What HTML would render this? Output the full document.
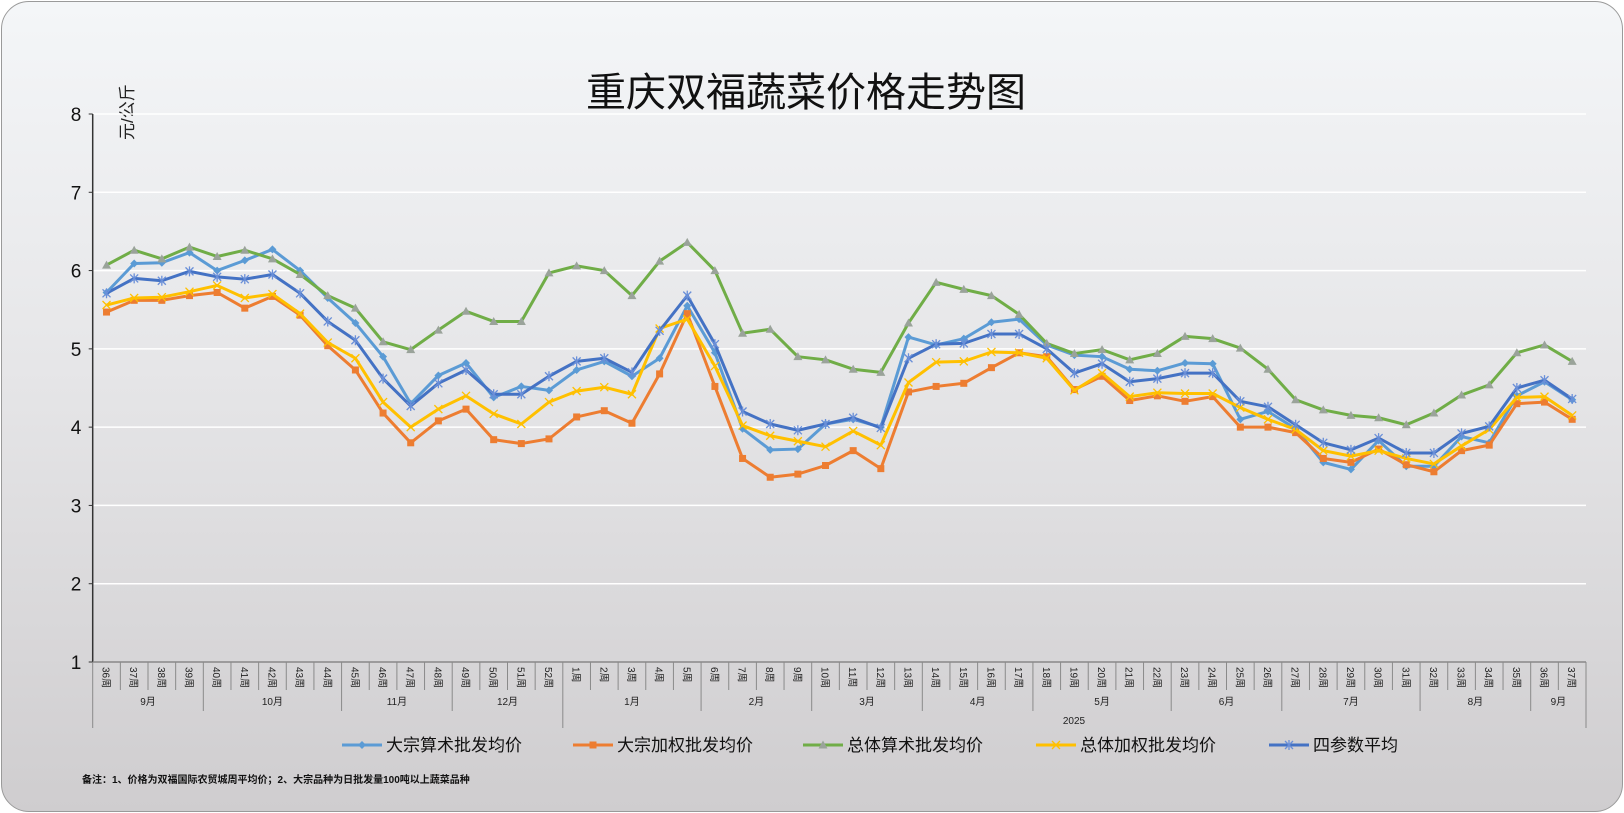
<!DOCTYPE html>
<html><head><meta charset="utf-8"><style>
html,body{margin:0;padding:0;width:1624px;height:813px;overflow:hidden;background:#fff}
#card{position:absolute;left:1px;top:1px;width:1620px;height:809px;border:1px solid #9a9a9a;border-radius:28px;background:linear-gradient(#f4f6f8,#e6e6e8 45%,#cfcdcf);overflow:hidden}
svg text{font-family:"Liberation Sans","Noto Sans CJK SC",sans-serif}
</style></head><body>
<div id="card">
<svg id="chart" width="1624" height="813" style="position:absolute;left:-2px;top:-2px">
<text x="806" y="106" text-anchor="middle" font-size="40" fill="#111">重庆双福蔬菜价格走势图</text>
<text transform="translate(133,140) rotate(-90)" font-size="17" fill="#222">元/公斤</text>
<text x="82" y="783" font-size="10" font-weight="bold" fill="#111">备注：1、价格为双福国际农贸城周平均价；2、大宗品种为日批发量100吨以上蔬菜品种</text>
<g id="grid"></g><g id="axes"></g><g id="series"></g><g id="legend"></g>
</svg>
</div>
<script>
const weeks=["36周","37周","38周","39周","40周","41周","42周","43周","44周","45周","46周","47周","48周","49周","50周","51周","52周","1周","2周","3周","4周","5周","6周","7周","8周","9周","10周","11周","12周","13周","14周","15周","16周","17周","18周","19周","20周","21周","22周","23周","24周","25周","26周","27周","28周","29周","30周","31周","32周","33周","34周","35周","36周","37周"];
const months=[["9月",0,3],["10月",4,8],["11月",9,12],["12月",13,16],["1月",17,21],["2月",22,25],["3月",26,29],["4月",30,33],["5月",34,38],["6月",39,42],["7月",43,47],["8月",48,51],["9月",52,53]];
const yTicks=[1,2,3,4,5,6,7,8];
const s1=[5.72,6.09,6.1,6.23,6.0,6.13,6.27,6.0,5.65,5.33,4.9,4.3,4.66,4.82,4.38,4.52,4.47,4.73,4.84,4.65,4.88,5.55,4.95,3.98,3.71,3.72,4.04,4.1,4.0,5.15,5.05,5.13,5.34,5.38,5.05,4.92,4.9,4.74,4.72,4.82,4.81,4.1,4.2,3.98,3.55,3.46,3.83,3.5,3.5,3.88,3.8,4.4,4.58,4.35];
const s2=[5.47,5.62,5.62,5.68,5.72,5.52,5.67,5.43,5.04,4.73,4.18,3.8,4.08,4.23,3.84,3.79,3.85,4.13,4.21,4.05,4.68,5.45,4.52,3.6,3.36,3.4,3.51,3.7,3.47,4.45,4.52,4.56,4.76,4.95,4.9,4.48,4.65,4.34,4.4,4.33,4.39,4.0,4.0,3.93,3.6,3.55,3.72,3.52,3.43,3.7,3.77,4.3,4.32,4.1];
const s3=[6.07,6.26,6.15,6.3,6.18,6.26,6.15,5.95,5.68,5.52,5.09,4.99,5.24,5.48,5.35,5.35,5.97,6.06,6.0,5.68,6.12,6.36,6.0,5.2,5.25,4.9,4.86,4.74,4.7,5.33,5.85,5.76,5.68,5.44,5.07,4.94,4.99,4.86,4.94,5.16,5.13,5.01,4.74,4.35,4.22,4.15,4.12,4.03,4.18,4.41,4.54,4.95,5.05,4.84];
const s4=[5.56,5.65,5.66,5.73,5.81,5.65,5.7,5.45,5.08,4.88,4.32,4.0,4.23,4.4,4.17,4.04,4.32,4.46,4.51,4.42,5.26,5.38,4.78,4.02,3.89,3.82,3.75,3.95,3.77,4.57,4.83,4.84,4.96,4.95,4.88,4.47,4.69,4.39,4.44,4.43,4.43,4.25,4.1,3.97,3.7,3.63,3.7,3.6,3.53,3.76,3.97,4.38,4.39,4.15];
const s5=[5.71,5.9,5.87,5.99,5.92,5.89,5.95,5.71,5.35,5.11,4.62,4.27,4.56,4.73,4.42,4.42,4.65,4.84,4.88,4.7,5.23,5.68,5.06,4.2,4.04,3.96,4.04,4.12,3.99,4.88,5.06,5.07,5.19,5.19,5.0,4.69,4.81,4.58,4.62,4.69,4.69,4.33,4.26,4.03,3.8,3.71,3.86,3.67,3.67,3.92,4.01,4.5,4.6,4.36];
const seriesNames=["大宗算术批发均价","大宗加权批发均价","总体算术批发均价","总体加权批发均价","四参数平均"];

const NS="http://www.w3.org/2000/svg";
const X0=92.7,X1=1586,Y8=114,Y1=662;
const n=weeks.length, cw=(X1-X0)/n;
const xPos=i=>X0+(i+0.5)*cw;
const yPos=v=>Y1-(v-1)*(Y1-Y8)/7;
function mk(tag,attrs,parent){const e=document.createElementNS(NS,tag);for(const k in attrs)e.setAttribute(k,attrs[k]);parent.appendChild(e);return e;}
const grid=document.getElementById('grid'),axes=document.getElementById('axes'),ser=document.getElementById('series'),leg=document.getElementById('legend');
yTicks.forEach(v=>{
  if(v>1){const l=mk('line',{x1:X0,x2:X1,y1:yPos(v),y2:yPos(v),stroke:'#ffffff','stroke-width':1.5},grid);
  
  }
  const t=mk('text',{x:76,y:yPos(v)+7,'text-anchor':'middle','font-size':19,fill:'#111'},axes);t.textContent=v;
  
  
  const tk=mk('line',{x1:X0-4,x2:X0,y1:yPos(v),y2:yPos(v),stroke:'#333'},axes);
  
  
});
const ya=mk('line',{x1:X0,x2:X0,y1:Y8,y2:Y1,stroke:'#333','stroke-width':1.5},axes);


const xa=mk('line',{x1:X0,x2:X1,y1:Y1,y2:Y1,stroke:'#888','stroke-width':1.5},axes);


for(let i=0;i<=n;i++){
  const x=X0+i*cw;
  const isMonth=months.some(m=>m[1]===i)||i===n;
  let y2=isMonth?711:(Y1+28);
  if(i===0||i===17||i===n)y2=728;
  const l=mk('line',{x1:x,x2:x,y1:Y1,y2:y2,stroke:'#8a8a8a'},axes);
  
  
}
weeks.forEach((w,i)=>{
  const t=mk('text',{transform:`translate(${xPos(i)-4},${Y1+5}) rotate(90)`,'font-size':10,fill:'#222'},axes);t.textContent=w;
  
  
});
months.forEach(m=>{
  const t=mk('text',{x:(xPos(m[1])+xPos(m[2]))/2,y:705,'text-anchor':'middle','font-size':10,fill:'#222'},axes);t.textContent=m[0];
  
  
});
const yr=mk('text',{x:1074,y:724,'text-anchor':'middle','font-size':10,fill:'#222'},axes);yr.textContent='2025';



const colors=['#5b9bd5','#ed7d31','#70ad47','#ffc000','#4472c4'];
const shapes=['diamond','square','triangle','x','star'];
function marker(g,s,x,y,c){
  if(s==='diamond')mk('path',{d:`M${x} ${y-4}L${x+4} ${y}L${x} ${y+4}L${x-4} ${y}Z`,fill:c},g);
  else if(s==='square')mk('rect',{x:x-3.5,y:y-3.5,width:7,height:7,fill:c},g);
  else if(s==='triangle')mk('path',{d:`M${x} ${y-4.5}L${x+4.5} ${y+3.5}L${x-4.5} ${y+3.5}Z`,fill:'#9aa39a'},g);
  else if(s==='x')mk('path',{d:`M${x-4} ${y-4}L${x+4} ${y+4}M${x+4} ${y-4}L${x-4} ${y+4}`,stroke:c,'stroke-width':1.3,fill:'none'},g);
  else mk('path',{d:`M${x-4} ${y-4}L${x+4} ${y+4}M${x+4} ${y-4}L${x-4} ${y+4}M${x} ${y-5}L${x} ${y+5}`,stroke:'#6a8fd8','stroke-width':1.3,fill:'none'},g);
}
[s1,s2,s3,s4,s5].forEach((d,k)=>{
  const g=mk('g',{},ser);
  
  
  const p=mk('polyline',{points:d.map((v,i)=>xPos(i)+','+yPos(v)).join(' '),fill:'none',stroke:colors[k],'stroke-width':3,'stroke-linejoin':'round'},g);
  
  
  d.forEach((v,i)=>marker(g,shapes[k],xPos(i),yPos(v),colors[k]));
});
const lx=[342,573,803,1036,1269];
seriesNames.forEach((nm,k)=>{
  const g=mk('g',{},leg);
  
  
  mk('line',{x1:lx[k],x2:lx[k]+40,y1:745,y2:745,stroke:colors[k],'stroke-width':3},g);
  marker(g,shapes[k],lx[k]+20,745,colors[k]);
  const t=mk('text',{x:lx[k]+44,y:751,'font-size':17,fill:'#111'},g);t.textContent=nm;
});
</script>
</body></html>
